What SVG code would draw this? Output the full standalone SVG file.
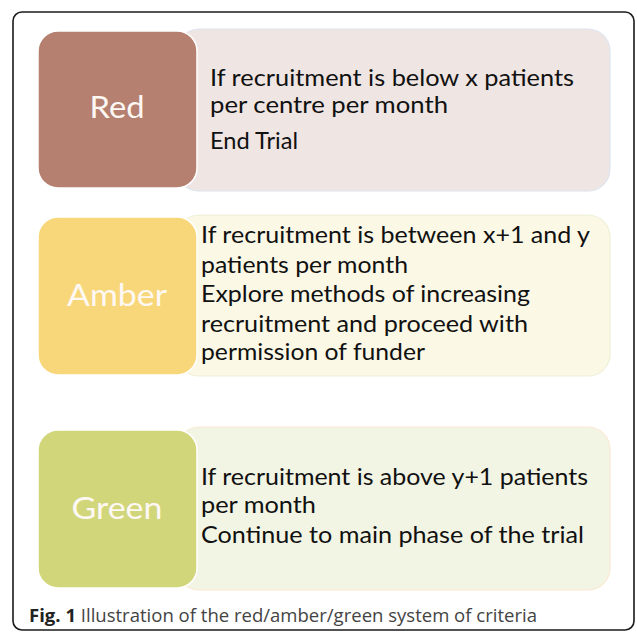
<svg xmlns="http://www.w3.org/2000/svg" width="637" height="632" viewBox="0 0 637 632">
<style>
.frame{fill:#fff;stroke:#1a1a1a;stroke-width:1.6}
.t{font-family:Lato,"Open Sans","Liberation Sans",sans-serif;font-size:24px;fill:#111}
.lbl{font-family:Lato,"Open Sans","Liberation Sans",sans-serif;font-size:31px;fill:#fdf8f4;text-anchor:middle}
.cap{font-family:"Open Sans",Lato,"Liberation Sans",sans-serif;font-size:18px;fill:#444}
.capb{font-weight:bold;fill:#222}
.key{stroke:#fff;stroke-width:1.5}
</style>
<rect class="frame" x="13" y="12" width="621" height="618" rx="9"/>
<g id="red">
<rect x="177" y="29" width="433" height="162" rx="22" fill="#efe5e3" stroke="#dce4f0" stroke-width="1.2"/>
<rect class="key" x="38" y="31" width="159" height="157" rx="20" fill="#b5806f"/>
<text class="lbl" x="117" y="118" textLength="55" lengthAdjust="spacingAndGlyphs">Red</text>
<text class="t" x="210" y="86" textLength="364" lengthAdjust="spacingAndGlyphs">If recruitment is below x patients</text>
<text class="t" x="210" y="113" textLength="238" lengthAdjust="spacingAndGlyphs">per centre per month</text>
<text class="t" x="210" y="149" textLength="88" lengthAdjust="spacingAndGlyphs">End Trial</text>
</g>
<g id="amber">
<rect x="177" y="215" width="433" height="161" rx="22" fill="#fbf8e6" stroke="#eef0d6" stroke-width="1.2"/>
<rect class="key" x="38" y="217" width="159" height="158" rx="20" fill="#f8d77a"/>
<text class="lbl" x="117" y="306" textLength="100" lengthAdjust="spacingAndGlyphs">Amber</text>
<text class="t" x="201" y="243" textLength="389" lengthAdjust="spacingAndGlyphs">If recruitment is between x+1 and y</text>
<text class="t" x="201" y="273" textLength="207" lengthAdjust="spacingAndGlyphs">patients per month</text>
<text class="t" x="201" y="302" textLength="329" lengthAdjust="spacingAndGlyphs">Explore methods of increasing</text>
<text class="t" x="201" y="332" textLength="327" lengthAdjust="spacingAndGlyphs">recruitment and proceed with</text>
<text class="t" x="201" y="360" textLength="224" lengthAdjust="spacingAndGlyphs">permission of funder</text>
</g>
<g id="green">
<rect x="177" y="427" width="433" height="163" rx="22" fill="#f3f5e4" stroke="#fbe8d4" stroke-width="1.2"/>
<rect class="key" x="38" y="430" width="159" height="158" rx="20" fill="#d2d67a"/>
<text class="lbl" x="117" y="519" textLength="91" lengthAdjust="spacingAndGlyphs">Green</text>
<text class="t" x="201" y="485" textLength="387" lengthAdjust="spacingAndGlyphs">If recruitment is above y+1 patients</text>
<text class="t" x="201" y="513" textLength="115" lengthAdjust="spacingAndGlyphs">per month</text>
<text class="t" x="201" y="543" textLength="383" lengthAdjust="spacingAndGlyphs">Continue to main phase of the trial</text>
</g>
<g id="connectors"/>
<text class="cap" x="29" y="622" textLength="508" lengthAdjust="spacingAndGlyphs"><tspan class="capb">Fig. 1</tspan> Illustration of the red/amber/green system of criteria</text>
</svg>
